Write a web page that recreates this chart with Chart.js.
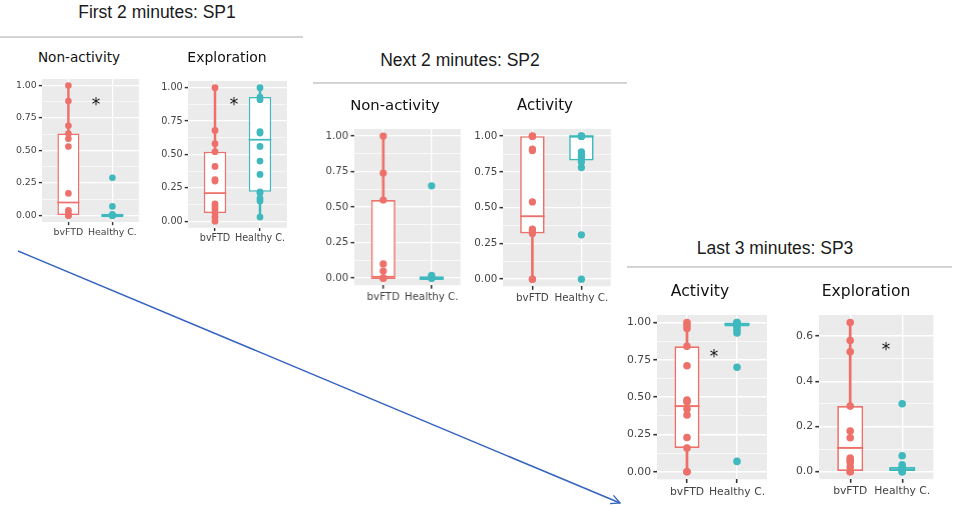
<!DOCTYPE html>
<html>
<head>
<meta charset="utf-8">
<script src="https://cdn.jsdelivr.net/npm/chart.js@4.4.0/dist/chart.umd.min.js"></script>
<style>
  body { margin: 0; background: #fff; width: 957px; height: 515px; overflow: hidden; position: relative; font-family: 'DejaVu Sans', sans-serif; }
  .box { position: absolute; }
  .sec { position: absolute; font-family: 'Liberation Sans', Arial, sans-serif; font-size: 17.5px; line-height: 1; color: #1a1a1a; transform: translateX(-50%); white-space: nowrap; }
  .rule { position: absolute; height: 1.5px; background: #d4d4d4; }
  .ttl { position: absolute; line-height: 1; color: #111; transform: translateX(-50%); white-space: nowrap; }
  .star { position: absolute; line-height: 1; color: #111; font-size: 17px; transform: translateX(-50%); }
</style>
</head>
<body>
<svg width="957" height="515" style="position:absolute;left:0;top:0">
  <defs>
    <marker id="ah" markerWidth="12" markerHeight="12" refX="10" refY="6" orient="auto" markerUnits="userSpaceOnUse">
      <path d="M1,1.5 L10,6 L1,10.5" fill="none" stroke="#3463c0" stroke-width="1.3"/>
    </marker>
  </defs>
  <line x1="18" y1="251" x2="620" y2="503" stroke="#3463c0" stroke-width="1.4" marker-end="url(#ah)"/>
</svg>
<script>
const groups = ['bvFTD', 'Healthy C.'];
const ticks01 = [0, 0.25, 0.5, 0.75, 1];
const tickLabels01 = ['0.00', '0.25', '0.50', '0.75', '1.00'];
const ticks06 = [0, 0.2, 0.4, 0.6];
const tickLabels06 = ['0.0', '0.2', '0.4', '0.6'];

// box stats: [lower whisker, q1, median, q3, upper whisker]
// SP1 - Non-activity
const sp1NonActBvftd = [1.00, 0.88, 0.69, 0.63, 0.59, 0.53, 0.17, 0.04, 0.02, 0.00, 0.00, 0.00];
const sp1NonActHealthy = [0.29, 0.07, 0.01, 0.00, 0.00, 0.00, 0.00, 0.00, 0.00];
const sp1NonActBoxBvftd = [0.00, 0.00, 0.10, 0.63, 1.00];
const sp1NonActBoxHealthy = [0.00, 0.00, 0.00, 0.00, 0.00];
// SP1 - Exploration
const sp1ExplBvftd = [1.00, 0.68, 0.58, 0.52, 0.41, 0.31, 0.30, 0.13, 0.11, 0.09, 0.06, 0.03, 0.00];
const sp1ExplHealthy = [1.00, 0.93, 0.91, 0.67, 0.66, 0.56, 0.45, 0.35, 0.22, 0.21, 0.17, 0.15, 0.03];
const sp1ExplBoxBvftd = [0.00, 0.06, 0.21, 0.52, 1.00];
const sp1ExplBoxHealthy = [0.03, 0.22, 0.61, 0.93, 1.00];
// SP2 - Non-activity
const sp2NonActBvftd = [1.00, 0.74, 0.55, 0.10, 0.05, 0.00, 0.00, 0.00, 0.00];
const sp2NonActHealthy = [0.65, 0.02, 0.00, 0.00, 0.00, 0.00, 0.00];
const sp2NonActBoxBvftd = [0.00, 0.00, 0.00, 0.55, 1.00];
const sp2NonActBoxHealthy = [0.00, 0.00, 0.00, 0.00, 0.00];
// SP2 - Activity
const sp2ActBvftd = [1.00, 1.00, 1.00, 0.91, 0.90, 0.54, 0.35, 0.34, 0.32, 0.00, 0.00];
const sp2ActHealthy = [1.00, 1.00, 1.00, 1.00, 0.89, 0.87, 0.85, 0.82, 0.78, 0.31, 0.00];
const sp2ActBoxBvftd = [0.00, 0.32, 0.44, 1.00, 1.00];
const sp2ActBoxHealthy = [0.78, 0.83, 1.00, 1.00, 1.00];
// SP3 - Activity
const sp3ActBvftd = [1.00, 0.98, 0.96, 0.84, 0.71, 0.48, 0.47, 0.42, 0.38, 0.23, 0.16, 0.00, 0.00];
const sp3ActHealthy = [1.00, 1.00, 0.99, 0.98, 0.97, 0.95, 0.93, 0.70, 0.07];
const sp3ActBoxBvftd = [0.00, 0.16, 0.44, 0.84, 1.00];
const sp3ActBoxHealthy = [0.93, 0.973, 0.99, 1.00, 1.00];
// SP3 - Exploration
const sp3ExplBvftd = [0.66, 0.58, 0.53, 0.29, 0.18, 0.15, 0.06, 0.05, 0.04, 0.02, 0.00, 0.00];
const sp3ExplHealthy = [0.30, 0.07, 0.03, 0.02, 0.01, 0.00, 0.00];
const sp3ExplBoxBvftd = [0.00, 0.00, 0.105, 0.29, 0.66];
const sp3ExplBoxHealthy = [0.00, 0.00, 0.01, 0.02, 0.03];

const RED = '#ED716A';
const TEAL = '#3FB9BE';

const sections = [
  { text: 'First 2 minutes: SP1', x: 157, base: 18.5, rule: [0, 303, 36] },
  { text: 'Next 2 minutes: SP2', x: 460, base: 66.5, rule: [313, 627, 82] },
  { text: 'Last 3 minutes: SP3', x: 775, base: 255, rule: [627, 952, 266] }
];

// area: [left, top, right, bottom] of the grey panel
const panels = [
  { title: 'Non-activity', bv: sp1NonActBvftd, hc: sp1NonActHealthy, boxBv: sp1NonActBoxBvftd, boxHc: sp1NonActBoxHealthy,
    ticks: ticks01, labels: tickLabels01, area: [41.6, 78.5, 138.4, 221.5], titleAt: [79, 63], star: [96, 101] },
  { title: 'Exploration', bv: sp1ExplBvftd, hc: sp1ExplHealthy, boxBv: sp1ExplBoxBvftd, boxHc: sp1ExplBoxHealthy,
    ticks: ticks01, labels: tickLabels01, area: [188, 80.6, 287, 227.4], titleAt: [227, 63], star: [234, 101] },
  { title: 'Non-activity', bv: sp2NonActBvftd, hc: sp2NonActHealthy, boxBv: sp2NonActBoxBvftd, boxHc: sp2NonActBoxHealthy,
    ticks: ticks01, labels: tickLabels01, area: [354.2, 128.9, 459.8, 285.1], titleAt: [395, 110.7], star: null },
  { title: 'Activity', bv: sp2ActBvftd, hc: sp2ActHealthy, boxBv: sp2ActBoxBvftd, boxHc: sp2ActBoxHealthy,
    ticks: ticks01, labels: tickLabels01, area: [502.6, 128.9, 610.4, 286.2], titleAt: [545, 110.7], star: null },
  { title: 'Activity', bv: sp3ActBvftd, hc: sp3ActHealthy, boxBv: sp3ActBoxBvftd, boxHc: sp3ActBoxHealthy,
    ticks: ticks01, labels: tickLabels01, area: [657, 315.2, 767, 479.5], titleAt: [700, 297], star: [714, 353] },
  { title: 'Exploration', bv: sp3ExplBvftd, hc: sp3ExplHealthy, boxBv: sp3ExplBoxBvftd, boxHc: sp3ExplBoxHealthy,
    ticks: ticks06, labels: tickLabels06, area: [818.8, 315.4, 933.2, 479.5], titleAt: [866, 297], star: [886, 346] }
];

const Y_W = 40, X_H = 26, PAD_T = 14, PAD_R = 10;

// grey ggplot-like panel
const panelBg = {
  id: 'panelBg',
  beforeDraw(chart) {
    const a = chart.chartArea;
    chart.ctx.save();
    chart.ctx.fillStyle = '#EBEBEB';
    chart.ctx.fillRect(a.left, a.top, a.width, a.height);
    chart.ctx.restore();
  }
};

// median line across each box
const medianLines = {
  id: 'medianLines',
  afterDatasetDraw(chart, args) {
    const ds = chart.data.datasets[args.index];
    if (!ds.medians) return;
    const y = chart.scales.y;
    const ctx = chart.ctx;
    ctx.save();
    args.meta.data.forEach((bar, i) => {
      const py = y.getPixelForValue(ds.medians[i]);
      ctx.strokeStyle = ds.borderColor[i];
      ctx.lineWidth = ds.medianWidth;
      ctx.beginPath();
      ctx.moveTo(bar.x - bar.width / 2, py);
      ctx.lineTo(bar.x + bar.width / 2, py);
      ctx.stroke();
    });
    ctx.restore();
  }
};

function addText(cls, text, x, top, size) {
  const d = document.createElement('div');
  d.className = cls;
  d.textContent = text;
  d.style.left = x + 'px';
  d.style.top = top + 'px';
  if (size) d.style.fontSize = size + 'px';
  document.body.appendChild(d);
}

sections.forEach(sec => {
  addText('sec', sec.text, sec.x, sec.base - 0.847 * 17.5);
  const r = document.createElement('div');
  r.className = 'rule';
  r.style.left = sec.rule[0] + 'px';
  r.style.width = (sec.rule[1] - sec.rule[0]) + 'px';
  r.style.top = sec.rule[2] + 'px';
  document.body.appendChild(r);
});

function makePanel(p) {
  const [l, t, r, b] = p.area;
  const s = (b - t) / 143;

  const div = document.createElement('div');
  div.className = 'box';
  div.style.left = (l - Y_W) + 'px';
  div.style.top = (t - PAD_T) + 'px';
  div.style.width = (r - l + Y_W + PAD_R) + 'px';
  div.style.height = (b - t + PAD_T + X_H) + 'px';
  const cv = document.createElement('canvas');
  div.appendChild(cv);
  document.body.appendChild(div);

  const fs = 13.6 * s;
  addText('ttl', p.title, p.titleAt[0], p.titleAt[1] - 0.846 * fs, fs);
  if (p.star) addText('star', '*', p.star[0], p.star[1] - 0.27 * 17);

  const all = p.bv.concat(p.hc);
  const lo = Math.min(...all), hi = Math.max(...all);
  const ex = (hi - lo) * 0.05;

  const yTicks = [];
  p.ticks.forEach((v, i) => {
    yTicks.push({ value: v, lab: p.labels[i] });
    if (i < p.ticks.length - 1) yTicks.push({ value: (v + p.ticks[i + 1]) / 2, lab: '', minor: true });
  });

  const tickFont = { family: 'DejaVu Sans', size: 9.4 * s };

  new Chart(cv, {
    type: 'bar',
    data: {
      datasets: [
        {
          type: 'bar',
          data: [{ x: 1, y: [p.boxBv[0], p.boxBv[4]] }, { x: 2, y: [p.boxHc[0], p.boxHc[4]] }],
          backgroundColor: [RED, TEAL],
          barThickness: 1.8 * s,
          grouped: false,
          order: 3
        },
        {
          type: 'bar',
          data: [{ x: 1, y: [p.boxBv[1], p.boxBv[3]] }, { x: 2, y: [p.boxHc[1], p.boxHc[3]] }],
          medians: [p.boxBv[2], p.boxHc[2]],
          medianWidth: 1.7 * s,
          backgroundColor: '#ffffff',
          borderColor: [RED, TEAL],
          borderWidth: 1.5 * s,
          borderSkipped: false,
          barPercentage: 0.5,
          categoryPercentage: 1,
          minBarLength: 3.4 * s,
          grouped: false,
          order: 2
        },
        {
          type: 'scatter',
          data: p.bv.map(v => ({ x: 1, y: v })),
          backgroundColor: RED,
          borderWidth: 0,
          pointRadius: 3.3 * s,
          order: 1
        },
        {
          type: 'scatter',
          data: p.hc.map(v => ({ x: 2, y: v })),
          backgroundColor: TEAL,
          borderWidth: 0,
          pointRadius: 3.3 * s,
          order: 1
        }
      ]
    },
    options: {
      responsive: true,
      maintainAspectRatio: false,
      animation: false,
      layout: { padding: { left: 0, top: PAD_T, right: PAD_R, bottom: 0 } },
      plugins: { legend: { display: false }, tooltip: { enabled: false }, title: { display: false } },
      scales: {
        x: {
          type: 'linear',
          min: 0.4,
          max: 2.6,
          offset: false,
          afterBuildTicks: sc => { sc.ticks = groups.map((g, i) => ({ value: i + 1, lab: g })); },
          afterFit: sc => { sc.height = X_H; },
          ticks: { autoSkip: false, maxRotation: 0, minRotation: 0, padding: 2 * s, color: '#444', font: tickFont,
                   callback: (v, i, ts) => ts[i].lab },
          grid: { offset: false, color: '#ffffff', lineWidth: 1.2 * s, tickColor: '#333', tickLength: 3.2 * s, tickWidth: 1.4 * s },
          border: { display: false }
        },
        y: {
          min: lo - ex,
          max: hi + ex,
          afterBuildTicks: sc => { sc.ticks = yTicks.map(o => Object.assign({}, o)); },
          afterFit: sc => { sc.width = Y_W; },
          ticks: { autoSkip: false, padding: 2 * s, color: '#444', font: tickFont,
                   callback: (v, i, ts) => ts[i].lab },
          grid: {
            color: '#ffffff',
            lineWidth: c => (c.tick && c.tick.minor ? 0.6 * s : 1.2 * s),
            tickColor: c => (c.tick && c.tick.minor ? 'rgba(0,0,0,0)' : '#333'),
            tickLength: 3.2 * s,
            tickWidth: 1.4 * s
          },
          border: { display: false }
        }
      }
    },
    plugins: [panelBg, medianLines]
  });
}

panels.forEach(makePanel);
</script>
</body>
</html>
